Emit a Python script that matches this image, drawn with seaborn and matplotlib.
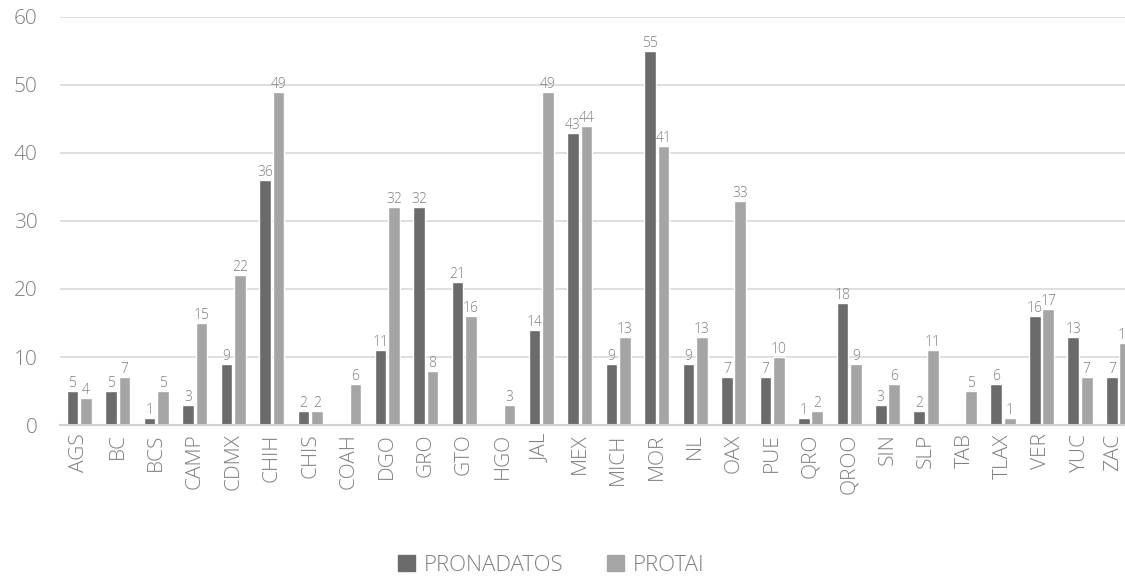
import pandas as pd
import numpy as np
import seaborn as sns
import matplotlib.pyplot as plt
import matplotlib.transforms as mtransforms

# datos por estado
estados = ["AGS", "BC", "BCS", "CAMP", "CDMX", "CHIH", "CHIS", "COAH", "DGO", "GRO",
           "GTO", "HGO", "JAL", "MEX", "MICH", "MOR", "NL", "OAX", "PUE", "QRO",
           "QROO", "SIN", "SLP", "TAB", "TLAX", "VER", "YUC", "ZAC"]
pronadatos = [5, 5, 1, 3, 9, 36, 2, 0, 11, 32, 21, 0, 14, 43, 9, 55, 9, 7, 7, 1,
              18, 3, 2, 0, 6, 16, 13, 7]
protai = [4, 7, 5, 15, 22, 49, 2, 6, 32, 8, 16, 3, 49, 44, 13, 41, 13, 33, 10, 2,
          9, 6, 11, 5, 1, 17, 7, 12]
series = ["PRONADATOS", "PROTAI"]
colores = ["#6b6b6b", "#a5a5a5"]

df = pd.DataFrame({"estado": estados * 2,
                   "valor": pronadatos + protai,
                   "serie": [series[0]] * len(estados) + [series[1]] * len(estados)})

sns.set_style("white")
plt.rcParams['font.family'] = ['Open Sans', 'DejaVu Sans']
plt.rcParams['font.weight'] = 'light'
txt = "#7f7f7f"

fig = plt.figure(figsize=(11.25, 5.78), dpi=100)
ax = fig.add_axes([0.0533, 0.2647, 0.958, 0.7059])

sns.barplot(data=df, x="estado", y="valor", hue="serie", palette=colores,
            width=0.7, gap=0.14, ax=ax, legend=False)

for cont in ax.containers:
    labels = [str(int(v)) if v > 0 else "" for v in cont.datavalues]
    ax.bar_label(cont, labels=labels, padding=0, fontsize=10, color=txt)

ax.set_ylim(0, 60)
ax.set_yticks(range(0, 61, 10))
ax.set_xlim(-0.5, len(estados) - 0.5)
ax.yaxis.grid(True, color="#d9d9d9", linewidth=1.2)
ax.set_axisbelow(True)
for s in ["top", "right", "left"]:
    ax.spines[s].set_visible(False)
ax.spines["bottom"].set_color("#d0d0d0")
ax.spines["bottom"].set_linewidth(1.5)
ax.tick_params(axis="y", length=0, pad=16, labelsize=15, labelcolor=txt)
ax.tick_params(axis="x", length=0, pad=6, labelsize=15, labelcolor=txt, rotation=90)
ax.set_xlabel("")
ax.set_ylabel("")

# el ultimo rotulo (ZAC) queda pegado al borde, lo recorro un poco
ultimo = ax.get_xticklabels()[-1]
ultimo.set_transform(ultimo.get_transform() +
                     mtransforms.ScaledTranslation(-4 / 72, 0, fig.dpi_scale_trans))

handles = [plt.Rectangle((0, 0), 1, 1, color=c) for c in colores]
fig.legend(handles, series, loc="center", bbox_to_anchor=(0.49, 0.022), ncol=2,
           frameon=False, fontsize=16, labelcolor=txt, handlelength=0.75,
           handleheight=0.75, handletextpad=0.4, columnspacing=2.0)

fig.savefig("out.png", dpi=100)
